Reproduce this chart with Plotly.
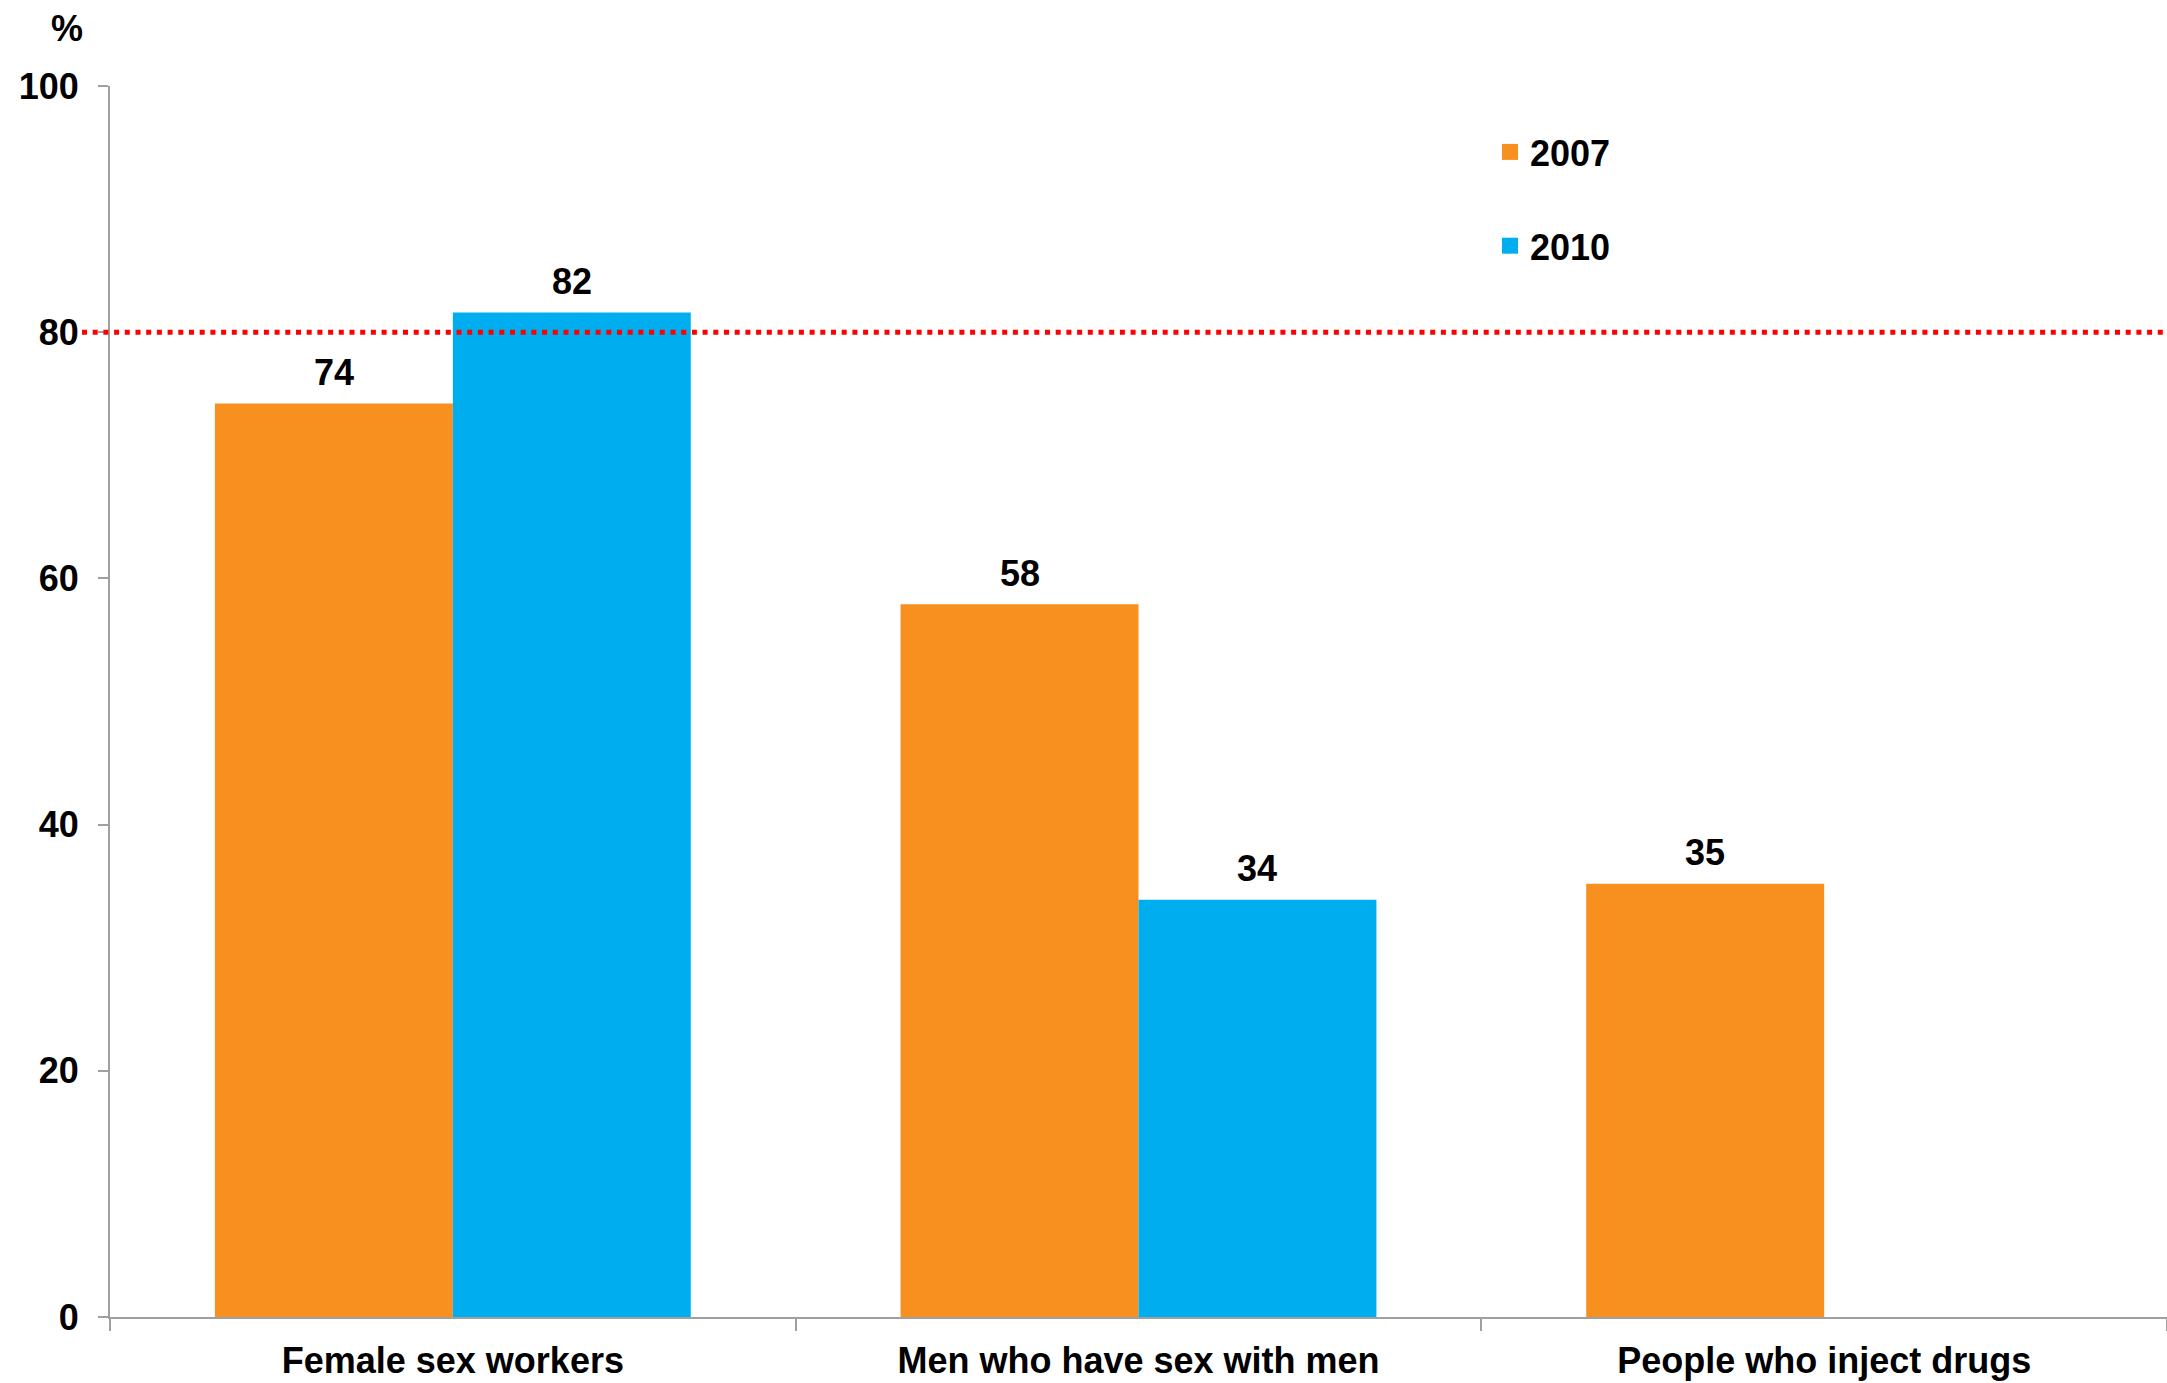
import plotly.graph_objects as go

categories = ["Female sex workers", "Men who have sex with men", "People who inject drugs"]
series_2007 = [74.2, 57.9, 35.2]
series_2010 = [81.6, 33.9, None]
target_value = 80
y_ticks = [0, 20, 40, 60, 80, 100]

FONT = "Liberation Sans, Arial, sans-serif"
ORANGE = "#F7901E"
BLUE = "#00AEEF"
AXIS = "#A0A0A0"

W, H = 2167, 1383
L, T, B = 110, 86, 66
PW = W - L
PH = H - T - B
BARGAP = 0.306
bar_px = PW / 3 * (1 - BARGAP) / 2

fig = go.Figure()
for name, vals, col, sign in [("2007", series_2007, ORANGE, -1), ("2010", series_2010, BLUE, 1)]:
    fig.add_trace(go.Bar(
        name=name, x=categories, y=vals, marker=dict(color=col, line=dict(width=0)),
        showlegend=False,
    ))
    # legend entry with a larger square swatch
    fig.add_trace(go.Scatter(
        name=name, x=[None], y=[None], mode="markers",
        marker=dict(symbol="square", size=19, color=col, line=dict(width=0)),
        legendgroup=name, showlegend=True, hoverinfo="skip",
    ))
    for c, v in zip(categories, vals):
        if v is None:
            continue
        fig.add_annotation(x=c, y=v, xref="x", yref="y", text=f"{round(v):d}", showarrow=False,
                           xshift=sign * bar_px / 2, yshift=31, xanchor="center", yanchor="middle",
                           font=dict(family=FONT, size=36, color="black", weight="bold"))

fig.add_shape(type="line", xref="paper", yref="y", x0=(82 - 110) / PW, x1=1.0, y0=target_value, y1=target_value,
              line=dict(color="#FF0000", width=5, dash="5px,5.7px"), layer="above")

fig.add_annotation(text="%", xref="paper", yref="paper", x=(67 - 110) / PW, y=1 + (86 - 28) / PH,
                   showarrow=False, xanchor="center", yanchor="middle",
                   font=dict(family=FONT, size=36, color="black", weight="bold"))

fig.update_layout(
    width=W, height=H,
    margin=dict(l=L, r=0, t=T, b=B, pad=0),
    plot_bgcolor="white", paper_bgcolor="white",
    barmode="group", bargap=BARGAP, bargroupgap=0,
    font=dict(family=FONT, size=36, color="black"),
    showlegend=True,
    legend=dict(x=(1490 - 110) / PW, y=(1317 - 122) / PH, xanchor="left", yanchor="top",
                font=dict(family=FONT, size=36, color="black", weight="bold"),
                tracegroupgap=44, bgcolor="rgba(0,0,0,0)", itemwidth=30),
)
fig.update_xaxes(
    range=[-0.5, 2.5], showline=True, linecolor=AXIS, linewidth=2, showgrid=False,
    ticks="outside", tickson="boundaries", ticklen=12, tickcolor=AXIS, tickwidth=2,
    tickfont=dict(family=FONT, size=36, color="black", weight="bold"), ticklabelstandoff=11,
    zeroline=False,
)
fig.update_yaxes(
    range=[0, 100], tickvals=y_ticks, showline=True, linecolor=AXIS, linewidth=2, showgrid=False,
    ticks="outside", ticklen=10, tickcolor=AXIS, tickwidth=2,
    tickfont=dict(family=FONT, size=36, color="black", weight="bold"), ticklabelstandoff=12,
    zeroline=False,
)

fig.write_html(
    "out.html",
    config={"displayModeBar": False},
    post_script="document.body.style.margin='0';document.body.style.overflow='hidden';",
)
